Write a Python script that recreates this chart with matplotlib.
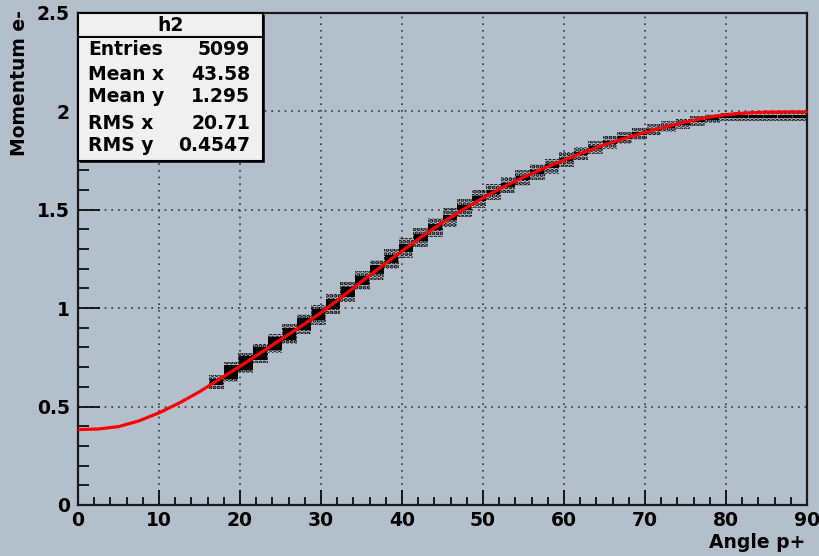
import matplotlib
matplotlib.use('Agg')
import numpy as np
import matplotlib.pyplot as plt
from matplotlib.patches import Rectangle
from matplotlib.lines import Line2D
from matplotlib.ticker import MultipleLocator

# fitted curve
curve_x = [0, 2.5, 5, 7.5, 10, 12.5, 15, 17.5, 20, 22.5, 25, 27.5, 30, 32.5, 35,
           37.5, 40, 42.5, 45, 47.5, 50, 52.5, 55, 57.5, 60, 62.5, 65, 67.5, 70,
           72.5, 75, 77.5, 80, 82.5, 85, 87.5, 90]
curve_y = [0.383, 0.386, 0.398, 0.427, 0.468, 0.518, 0.575, 0.64, 0.705, 0.772,
           0.84, 0.907, 0.977, 1.055, 1.135, 1.213, 1.29, 1.365, 1.435, 1.5,
           1.56, 1.615, 1.665, 1.71, 1.752, 1.792, 1.83, 1.862, 1.893, 1.92,
           1.945, 1.967, 1.983, 1.991, 1.995, 1.996, 1.996]

# scatter band: bin centre, centre of band, half spread, half height of dense core
band_x = [17.1, 18.9, 20.7, 22.5, 24.3, 26.1, 27.9, 29.7, 31.5, 33.3, 35.1,
          36.9, 38.7, 40.5, 42.3, 44.1, 45.9, 47.7, 49.5, 51.3, 53.1, 54.9,
          56.7, 58.5, 60.3, 62.1, 63.9, 65.7, 67.5, 69.3, 71.1, 72.9, 74.7,
          76.5, 78.3, 80.1, 81.9, 83.7, 85.5, 87.3, 89.1]
band_y = [0.625, 0.675, 0.72, 0.77, 0.82, 0.87, 0.92, 0.965, 1.02, 1.08, 1.14,
          1.195, 1.25, 1.305, 1.36, 1.41, 1.46, 1.51, 1.555, 1.59, 1.625, 1.66,
          1.69, 1.72, 1.755, 1.785, 1.815, 1.84, 1.865, 1.885, 1.905, 1.92, 1.935,
          1.95, 1.962, 1.97, 1.972, 1.972, 1.972, 1.972, 1.972]
band_w = [0.035, 0.05, 0.05, 0.05, 0.05, 0.05, 0.05, 0.05, 0.05, 0.05, 0.05,
          0.05, 0.05, 0.05, 0.048, 0.048, 0.048, 0.045, 0.045, 0.042, 0.042, 0.04,
          0.04, 0.038, 0.038, 0.035, 0.033, 0.033, 0.03, 0.03, 0.028, 0.028, 0.026,
          0.025, 0.022, 0.022, 0.022, 0.022, 0.022, 0.022, 0.022]
core_h = [0.015, 0.035, 0.035, 0.032, 0.032, 0.03, 0.03, 0.028, 0.026, 0.025, 0.025,
          0.022, 0.02, 0.02, 0.018, 0.015, 0.015, 0.012, 0.012, 0.012, 0.01, 0.01,
          0.01, 0.01, 0.008, 0.008, 0.008, 0.008, 0.007, 0.007, 0.006, 0.006, 0.006,
          0.006, 0.006, 0.006, 0.006, 0.006, 0.006, 0.006, 0.006]

stat_names = ['Entries', 'Mean x', 'Mean y', 'RMS x', 'RMS y']
stat_values = ['5099', '43.58', '1.295', '20.71', '0.4547']

bg = '#b3c0cc'
plt.rcParams['font.family'] = ['DejaVu Sans']
plt.rcParams['font.weight'] = 'bold'
plt.rcParams['hatch.linewidth'] = 2.0

W, H = 820, 556
fs = 13.5
fig = plt.figure(figsize=(W / 100, H / 100), dpi=100, facecolor=bg)
ax = fig.add_axes([78 / W, 1 - 505 / H, (807 - 78) / W, (505 - 12.7) / H])
ax.set_facecolor(bg)
ax.set_xlim(0, 90)
ax.set_ylim(0, 2.5)

# scatter-like band
bx = np.array(band_x)
by = np.array(band_y)
bw = np.array(band_w)
bc = np.array(core_h)
ax.bar(bx, 2 * bw, bottom=by - bw, width=1.8, fill=False, hatch='....',
       edgecolor='black', linewidth=0, zorder=2)
ax.bar(bx, 2 * bc, bottom=by - bc, width=1.7, color='black', linewidth=0, zorder=2)

# fit
ax.plot(curve_x, curve_y, color='#ff0000', lw=2.3, zorder=3)

# grid and ticks
ax.xaxis.set_major_locator(MultipleLocator(10))
ax.xaxis.set_minor_locator(MultipleLocator(2))
ax.yaxis.set_major_locator(MultipleLocator(0.5))
ax.yaxis.set_minor_locator(MultipleLocator(0.1))
ax.grid(True, which='major', color='#333333', linestyle=(0, (1, 3)), lw=1.2)
ax.set_axisbelow(True)
ax.tick_params(axis='x', which='major', direction='in', length=11, width=1.2,
               labelsize=fs, pad=4)
ax.tick_params(axis='x', which='minor', direction='in', length=5.5, width=1.2)
ax.tick_params(axis='y', which='major', direction='in', length=16, width=1.2,
               labelsize=fs, pad=6)
ax.tick_params(axis='y', which='minor', direction='in', length=8, width=1.2)
ax.set_yticks([0, 0.5, 1, 1.5, 2, 2.5])
ax.set_yticklabels(['0', '0.5', '1', '1.5', '2', '2.5'])
for s in ax.spines.values():
    s.set_linewidth(1.6)
    s.set_color('#1a1a1a')

fig.text(805 / W, 1 - 543 / H, 'Angle p+', ha='right', va='center',
         fontsize=fs, fontweight='bold')
fig.text(20 / W, 1 - 10 / H, 'Momentum e-', ha='center', va='top',
         rotation=90, fontsize=fs, fontweight='bold')

# stats box
x0, x1, y0, y1 = 78.3, 262.7, 12.7, 160.7
fig.add_artist(Rectangle((x0 / W + 2 / W, 1 - (y1 + 2) / H), (x1 - x0) / W, (y1 - y0) / H,
                         transform=fig.transFigure, facecolor='#2a2a2a',
                         edgecolor='none', zorder=5))
fig.add_artist(Rectangle((x0 / W, 1 - y1 / H), (x1 - x0) / W, (y1 - y0) / H,
                         transform=fig.transFigure, facecolor='#f0f0f0',
                         edgecolor='black', lw=1.5, zorder=6))
fig.add_artist(Line2D([x0 / W, x1 / W], [1 - 37.3 / H, 1 - 37.3 / H],
                      transform=fig.transFigure, color='black', lw=1.5, zorder=7))
fig.text((x0 + x1) / 2 / W, 1 - 25.5 / H, 'h2', ha='center', va='center',
         fontsize=fs, fontweight='bold', zorder=8)
row_y = [49.5, 75, 96, 124, 146]
for name, val, yy in zip(stat_names, stat_values, row_y):
    fig.text(88 / W, 1 - yy / H, name, ha='left', va='center',
             fontsize=fs, fontweight='bold', zorder=8)
    fig.text(250 / W, 1 - yy / H, val, ha='right', va='center',
             fontsize=fs, fontweight='bold', zorder=8)

fig.savefig('out.png', dpi=100, facecolor=bg)
